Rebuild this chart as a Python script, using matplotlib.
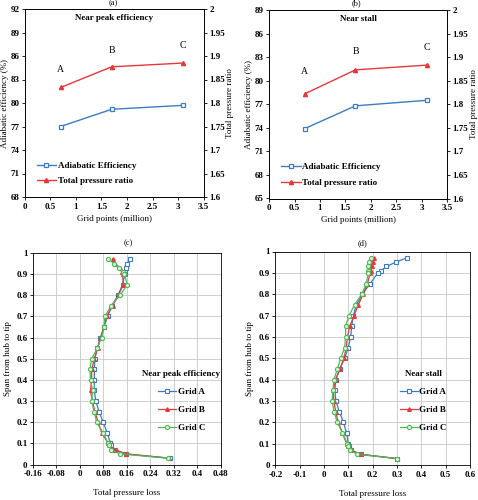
import matplotlib
matplotlib.use('Agg')
import matplotlib.pyplot as plt

plt.rcParams['font.family'] = ['Liberation Serif', 'DejaVu Serif']
plt.rcParams['font.weight'] = 'bold'
plt.rcParams['font.size'] = 6.5

# grid study, top row
grid_pts = [0.7, 1.7, 3.1]
grid_names = ['A', 'B', 'C']
eff_peak = [77.0, 79.2, 79.7]
pr_peak = [1.833, 1.877, 1.885]
eff_stall = [73.9, 76.8, 77.5]
pr_stall = [1.822, 1.873, 1.883]

# spanwise total pressure loss, bottom row
span = [0.97, 0.95, 0.93, 0.91, 0.9, 0.85, 0.8, 0.75, 0.7, 0.65, 0.6, 0.55, 0.5,
        0.45, 0.4, 0.35, 0.3, 0.25, 0.2, 0.15, 0.1, 0.09, 0.07, 0.05, 0.03]
peak_A = [0.172, 0.159, 0.157, 0.155, 0.153, 0.145, 0.130, 0.108, 0.094, 0.082, 0.070, 0.059, 0.051,
          0.049, 0.049, 0.049, 0.054, 0.065, 0.079, 0.093, 0.104, 0.107, 0.119, 0.157, 0.306]
peak_B = [0.111, 0.120, 0.135, 0.142, 0.145, 0.148, 0.130, 0.111, 0.091, 0.082, 0.070, 0.060, 0.049,
          0.040, 0.040, 0.036, 0.042, 0.051, 0.062, 0.074, 0.096, 0.100, 0.119, 0.157, 0.304]
peak_C = [0.096, 0.117, 0.134, 0.148, 0.151, 0.162, 0.136, 0.106, 0.085, 0.082, 0.074, 0.059, 0.040,
          0.034, 0.036, 0.043, 0.040, 0.048, 0.057, 0.079, 0.096, 0.100, 0.106, 0.136, 0.299]
stall_A = [0.341, 0.295, 0.257, 0.234, 0.222, 0.190, 0.158, 0.133, 0.121, 0.114, 0.110, 0.100, 0.085,
           0.065, 0.048, 0.045, 0.049, 0.063, 0.080, 0.093, 0.100, 0.103, 0.110, 0.151, 0.302]
stall_B = [0.206, 0.200, 0.196, 0.192, 0.190, 0.179, 0.161, 0.141, 0.124, 0.106, 0.096, 0.092, 0.082,
           0.066, 0.048, 0.038, 0.041, 0.048, 0.059, 0.076, 0.093, 0.100, 0.110, 0.151, 0.302]
stall_C = [0.192, 0.185, 0.183, 0.183, 0.183, 0.174, 0.155, 0.126, 0.103, 0.089, 0.089, 0.085, 0.069,
           0.055, 0.041, 0.037, 0.034, 0.041, 0.055, 0.076, 0.096, 0.100, 0.107, 0.137, 0.300]

BLUE = '#3a7dc4'
RED = '#e5383b'
GREEN = '#4dbb55'

fig = plt.figure(figsize=(4.78, 5.0), dpi=100)


def top_panel(rect, eff, pr, ylim, title, letters_y):
    ax = fig.add_axes(rect)
    ax2 = ax.twinx()
    l1, = ax.plot(grid_pts, eff, color=BLUE, marker='s', ms=3, mfc='white', mew=0.9, lw=1.0,
                  label='Adiabatic Efficiency')
    l2, = ax2.plot(grid_pts, pr, color=RED, marker='^', ms=3, mfc=RED, lw=1.0,
                   label='Total pressure ratio')
    ax.set_xlim(0, 3.5)
    ax.set_xticks([0, 0.5, 1, 1.5, 2, 2.5, 3, 3.5])
    ax.set_xticklabels(['0', '0.5', '1', '1.5', '2', '2.5', '3', '3.5'])
    ax.set_ylim(*ylim)
    ax.set_yticks(range(ylim[0], ylim[1] + 1, 3))
    ax2.set_ylim(1.6, 2.0)
    ax2.set_yticks([1.6, 1.65, 1.7, 1.75, 1.8, 1.85, 1.9, 1.95, 2.0])
    ax2.set_yticklabels(['1.6', '1.65', '1.7', '1.75', '1.8', '1.85', '1.9', '1.95', '2'])
    for a in (ax, ax2):
        a.tick_params(direction='out', length=2, width=0.6, pad=2)
        for s in a.spines.values():
            s.set_linewidth(0.6)
    ax.set_xlabel('Grid points (million)', labelpad=3)
    ax.set_ylabel('Adiabatic efficiency (%)', labelpad=1)
    ax2.set_ylabel('Total pressure ratio', labelpad=1)
    ax.text(1.75, ylim[1] - 1.2, title, ha='center', va='center')
    for x, n, yy in zip(grid_pts, grid_names, letters_y):
        ax.text(x, yy, n, ha='center', va='center', fontweight='normal', fontsize=7)
    ax.legend(handles=[l1, l2], loc='center left', bbox_to_anchor=(0.02, 0.125),
              frameon=False, handlelength=2.2, handletextpad=0.2, labelspacing=0.8)
    return ax


top_panel([0.052, 0.606, 0.374, 0.376], eff_peak, pr_peak, (68, 92), 'Near peak efficiency',
          [84.25, 86.7, 87.3])
top_panel([0.563, 0.603, 0.372, 0.377], eff_stall, pr_stall, (65, 89), 'Near stall',
          [81.2, 83.7, 84.2])


def bottom_panel(rect, a, b, c, xlim, xticks, xlabels, title, leg_x):
    ax = fig.add_axes(rect)
    ax.plot(a, span, color=BLUE, marker='s', ms=3, mfc='white', mew=0.8, lw=0.9, label='Grid A')
    ax.plot(b, span, color=RED, marker='^', ms=2.6, mfc=RED, lw=0.9, label='Grid B')
    ax.plot(c, span, color=GREEN, marker='o', ms=3, mfc='#dff3df', mew=0.8, lw=0.9, label='Grid C')
    ax.set_xlim(*xlim)
    ax.set_xticks(xticks)
    ax.set_xticklabels(xlabels)
    ax.set_ylim(0, 1)
    ax.set_yticks([i / 10 for i in range(11)])
    ax.set_yticklabels(['0'] + ['%.1f' % (i / 10) for i in range(1, 10)] + ['1'])
    ax.grid(True, color='#c8c8c8', lw=0.6)
    ax.tick_params(direction='out', length=2, width=0.6, pad=2)
    for s in ax.spines.values():
        s.set_linewidth(0.6)
    ax.set_xlabel('Total pressure loss', labelpad=8)
    ax.set_ylabel('Span from hub to tip', labelpad=3)
    leg = ax.legend(loc='center', bbox_to_anchor=(leg_x, 0.3), title=title, frameon=False,
                    handlelength=2.0, handletextpad=0.2, labelspacing=1.1)
    leg.get_title().set_fontweight('bold')
    return ax


bottom_panel([0.069, 0.071, 0.393, 0.423], peak_A, peak_B, peak_C, (-0.16, 0.48),
             [-0.16, -0.08, 0, 0.08, 0.16, 0.24, 0.32, 0.4, 0.48],
             ['-0.16', '-0.08', '0', '0.08', '0.16', '0.24', '0.32', '0.4', '0.48'],
             'Near peak efficiency', 0.79)
bottom_panel([0.576, 0.07, 0.407, 0.427], stall_A, stall_B, stall_C, (-0.2, 0.6),
             [-0.2, -0.1, 0, 0.1, 0.2, 0.3, 0.4, 0.5, 0.6],
             ['-0.2', '-0.1', '0', '0.1', '0.2', '0.3', '0.4', '0.5', '0.6'],
             'Near stall', 0.76)

for lbl, x, y in [('(a)', 113, 3), ('(b)', 356, 3), ('(c)', 128, 243), ('(d)', 362, 243)]:
    fig.text(x / 478, 1 - y / 500, lbl, ha='center', va='center', fontweight='normal', fontsize=6)

fig.savefig('out.png', dpi=100)
